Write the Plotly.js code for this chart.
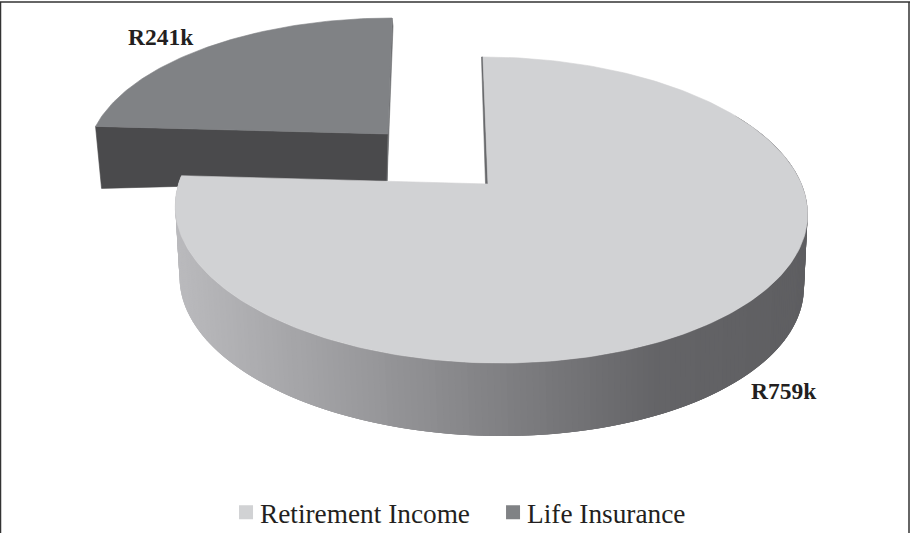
<!DOCTYPE html>
<html>
<head>
<meta charset="utf-8">
<script src="https://cdn.plot.ly/plotly-3.0.1.min.js"></script>
<style>html,body{margin:0;padding:0;background:#fff;}</style>
</head>
<body>
<div id="chart" style="width:910px;height:533px;"></div>
<script>
// Chart data
const categories = ['Retirement Income', 'Life Insurance'];
const values = [759, 241];
const valueLabels = ['R759k', 'R241k'];

// Styling
const topColors = ['#d1d2d4', '#808285'];
const lifeWallColor = '#4a4a4c';
const sliverColors = ['#68696c', '#6d6e71'];
const wallStopX = [175, 450, 650, 810];
const wallStopGrey = [186, 136, 100, 94];

// Projected disc of each slice (screen space of the 910x533 axes)
const retireTop = {ax: 490, ay: 184, rx: 311.5, ry: 148.6, k: 0.17, s: 8.2};
const retireBase = {ax: 490, ay: 256, rx: 307.5, ry: 149.4, k: 0.17, s: 10};
const lifeTop = {ax: 388, ay: 134, rx: 296, ry: 135.7, k: 0.17, s: -4.7};
const retireApex = [488, 184];
const lifeApex = [388, 134];

const total = values.reduce((a, b) => a + b, 0);
const splitDeg = 360 * values[0] / total;

function project(d, deg) {
  const t = deg * Math.PI / 180, X = Math.sin(t), Y = Math.cos(t), w = 1 + d.k * Y;
  return [d.ax + (d.rx * X - d.s * Y) / w, d.ay - d.ry * Y / w];
}
function arc(d, from, to) {
  const pts = [], n = Math.ceil(Math.abs(to - from));
  for (let i = 0; i <= n; i++) pts.push(project(d, from + (to - from) * i / n));
  return pts;
}
function poly(pts, color, lineWidth) {
  const closed = pts.concat([pts[0]]);
  return {
    type: 'scatter', mode: 'lines', fill: 'toself', fillcolor: color,
    x: closed.map(p => p[0]), y: closed.map(p => p[1]),
    line: {color: color, width: lineWidth === undefined ? 0.6 : lineWidth},
    showlegend: false, hoverinfo: 'skip'
  };
}
function wallColor(x) {
  let i = 0;
  while (i < wallStopX.length - 2 && x > wallStopX[i + 1]) i++;
  let f = (x - wallStopX[i]) / (wallStopX[i + 1] - wallStopX[i]);
  f = Math.max(0, Math.min(1, f));
  const g = Math.round(wallStopGrey[i] + (wallStopGrey[i + 1] - wallStopGrey[i]) * f);
  return `rgb(${g},${g},${g + 3})`;
}

const traces = [];

// Life Insurance slice (pulled out, drawn behind)
const lifeArc = arc(lifeTop, splitDeg, 360);
const lifeLeft = lifeArc[0], lifeBack = lifeArc[lifeArc.length - 1];
traces.push(poly([lifeLeft, lifeApex, [lifeApex[0] - 1, lifeApex[1] + 47], [lifeLeft[0] + 6, lifeLeft[1] + 62]], lifeWallColor));
traces.push(poly([lifeBack, [lifeBack[0] + 1, lifeBack[1] + 8], [lifeApex[0] - 1, lifeApex[1] + 47], lifeApex], sliverColors[1]));
traces.push(poly(lifeArc.concat([lifeApex]), topColors[1]));

// Retirement Income outer wall: overlapping strips so that no seam shows
for (let deg = 60; deg < splitDeg; deg += 1) {
  const end = Math.min(deg + 3, splitDeg);
  const a = project(retireTop, deg), b = project(retireTop, end);
  const c = project(retireBase, end), e = project(retireBase, deg);
  traces.push(poly([a, b, c, e], wallColor((a[0] + b[0]) / 2), 0));
}

// Retirement Income inner wall sliver and top face
const retireArc = arc(retireTop, 0, splitDeg);
const retireStart = retireArc[0];
traces.push(poly([[retireStart[0] - 1.5, retireStart[1]], retireStart, retireApex, [retireApex[0] - 2.5, retireApex[1]]], sliverColors[0]));
traces.push(poly(retireArc.concat([retireApex]), topColors[0]));

// Legend entries
categories.forEach((name, i) => traces.push({
  type: 'scatter', mode: 'markers', name: name, x: [null], y: [null],
  marker: {symbol: 'square', size: 14, color: topColors[i]}, hoverinfo: 'skip'
}));

const layout = {
  width: 910, height: 533, autosize: false,
  margin: {l: 0, r: 0, t: 0, b: 0},
  paper_bgcolor: '#ffffff', plot_bgcolor: '#ffffff',
  hovermode: false,
  xaxis: {range: [0, 910], visible: false, fixedrange: true},
  yaxis: {range: [533, 0], visible: false, fixedrange: true},
  legend: {
    orientation: 'h', x: 0.2418, xanchor: 'left', y: 0, yanchor: 'bottom',
    entrywidth: 222, entrywidthmode: 'pixels', itemwidth: 30,
    bgcolor: 'rgba(0,0,0,0)', borderwidth: 0,
    font: {family: '"Liberation Serif", serif', size: 27.3, color: '#231f20'}
  },
  annotations: [
    {text: valueLabels[1], x: 126, y: 37},
    {text: valueLabels[0], x: 749, y: 391}
  ].map(a => Object.assign(a, {
    xref: 'x', yref: 'y', xanchor: 'left', yanchor: 'middle', showarrow: false,
    font: {family: '"Liberation Serif", serif', size: 23.5, color: '#231f20', weight: 'bold'}
  })),
  shapes: [
    {x0: 0, x1: 910, y0: 2, y1: 2},
    {x0: 0.5, x1: 0.5, y0: 2, y1: 533},
    {x0: 909, x1: 909, y0: 2, y1: 533}
  ].map(s => Object.assign(s, {type: 'line', xref: 'x', yref: 'y', line: {color: '#333333', width: 1.5}}))
};

Plotly.newPlot('chart', traces, layout, {displayModeBar: false, staticPlot: true}).then(gd => {
  gd.querySelectorAll('.legendsymbols').forEach(el => el.setAttribute('transform', 'translate(6,0)'));
  const lg = gd.querySelector('.legend');
  const m = /translate\(([-\d.]+),\s*([-\d.]+)\)/.exec(lg.getAttribute('transform'));
  if (m) lg.setAttribute('transform', `translate(${m[1]},${+m[2] + 4})`);
});
</script>
</body>
</html>
